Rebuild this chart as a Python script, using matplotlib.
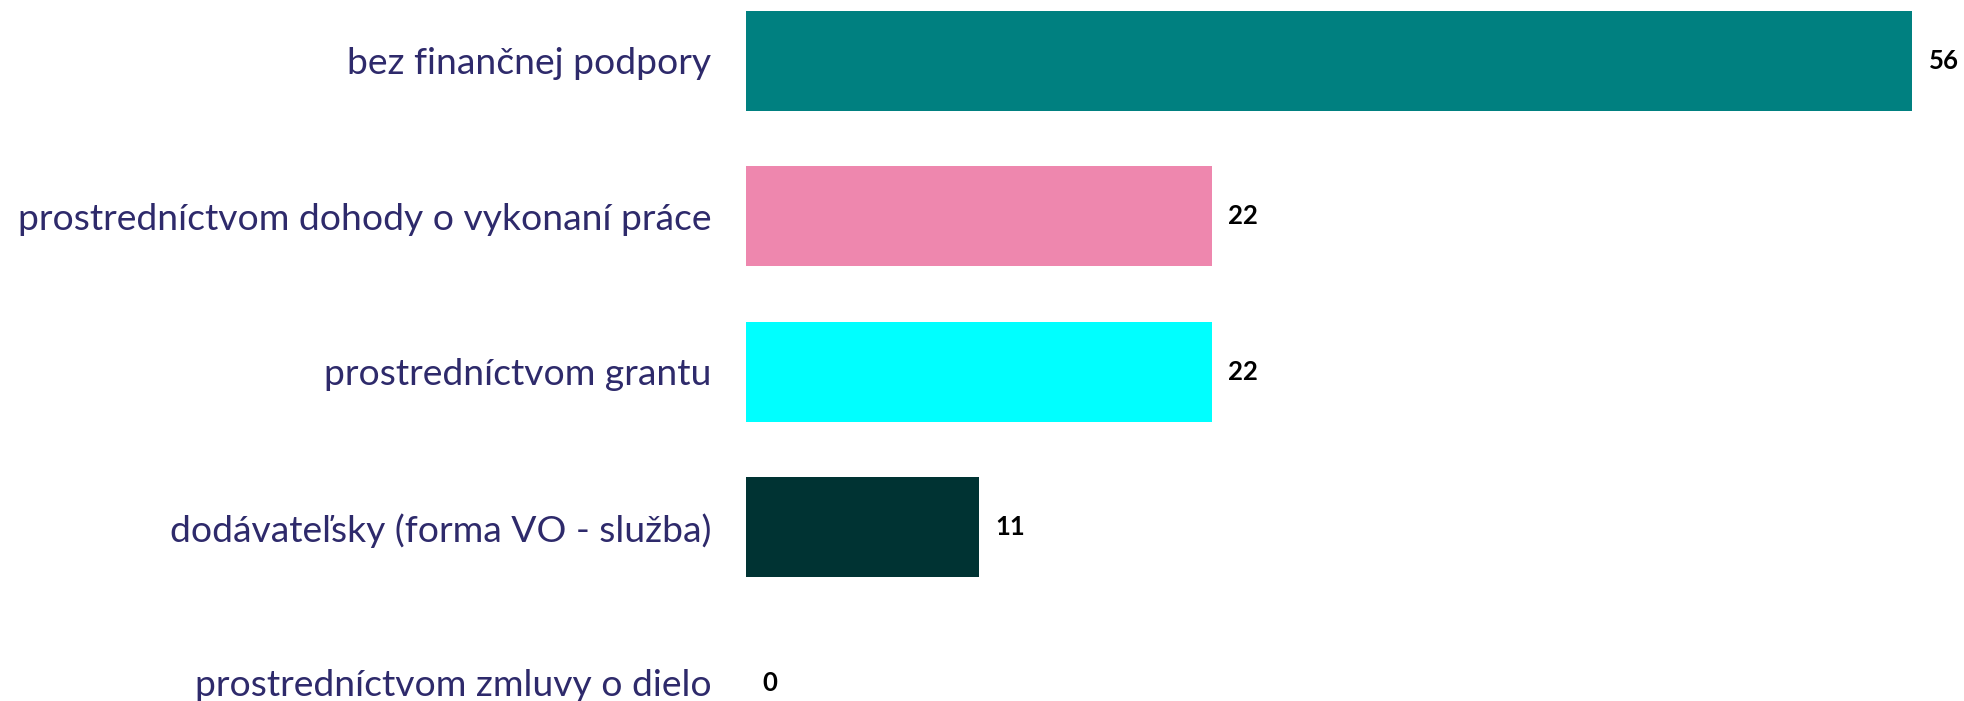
import matplotlib
matplotlib.use('Agg')
from matplotlib import pyplot as plt

plt.rcParams['font.family'] = ['Lato', 'DejaVu Sans']

categories = ['bez finančnej podpory',
              'prostredníctvom dohody o vykonaní práce',
              'prostredníctvom grantu',
              'dodávateľsky (forma VO - služba)',
              'prostredníctvom zmluvy o dielo']
values = [55.6, 22.2, 22.2, 11.1, 0.0]
colors = ['#008080', '#ee87ae', '#00ffff', '#003333', '#7f7f7f']

fig = plt.figure(figsize=(19.65, 7.01), dpi=100)
# axes placed in figure pixels so the last row runs off the bottom like the original
ax = fig.add_axes([746 / 1965, 0, 1 - 746 / 1965, 1])

y = list(range(len(categories)))
ax.barh(y, values, height=0.643, color=colors)

for yi, v in zip(y, values):
    ax.annotate(f'{v:.0f}', (v, yi), xytext=(12, 0), textcoords='offset points',
                va='center', ha='left', fontsize=18.5, fontweight='bold', color='black')

ax.set_xlim(0, 1219 / 20.97)
ax.set_ylim(4.116, -0.392)
ax.set_yticks(y)
ax.set_yticklabels(categories, fontsize=26.8, color='#2e2a6b')
ax.tick_params(axis='y', length=0, pad=25)
ax.set_xticks([])
for s in ax.spines.values():
    s.set_visible(False)

fig.savefig('out.png', dpi=100)
